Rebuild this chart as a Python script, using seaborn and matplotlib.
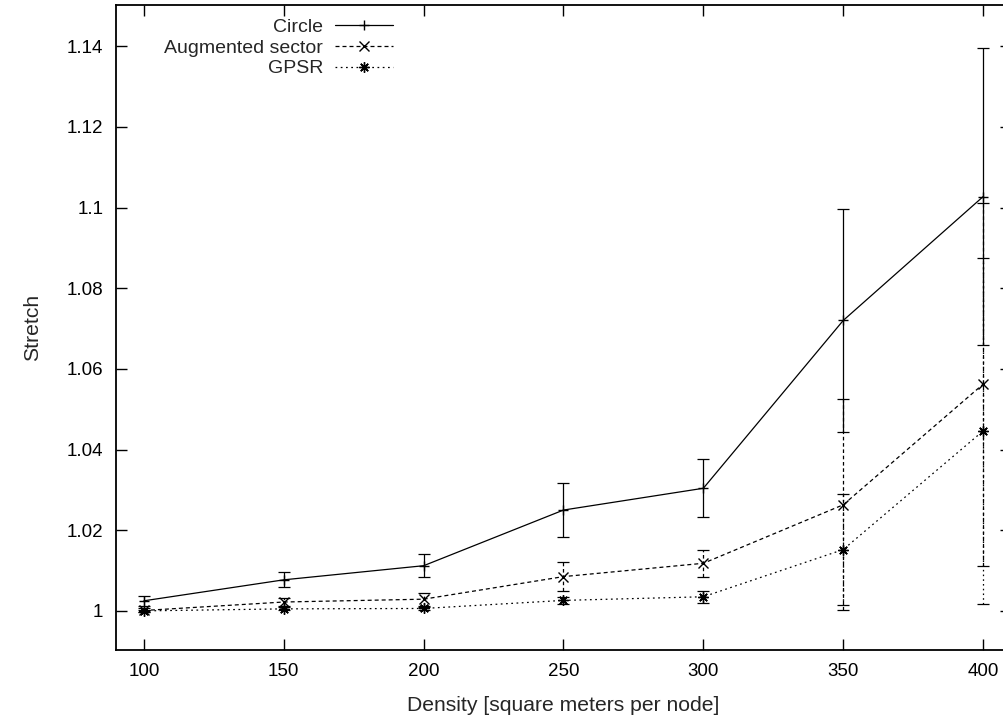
import numpy as np
import pandas as pd
import matplotlib
matplotlib.use("Agg")
import matplotlib.pyplot as plt
from matplotlib.lines import Line2D
import seaborn as sns

# Node density (square meters per node)
density = [100, 150, 200, 250, 300, 350, 400]

# Mean stretch and error half-widths per routing scheme
circle_mean = [1.0025, 1.0077, 1.0112, 1.0250, 1.0304, 1.0720, 1.1027]
circle_err = [0.0013, 0.0019, 0.0029, 0.0066, 0.0072, 0.0276, 0.0369]

sector_mean = [1.0001, 1.0022, 1.0029, 1.0085, 1.0118, 1.0263, 1.0562]
sector_err = [0.0005, 0.0010, 0.0016, 0.0035, 0.0034, 0.0262, 0.0450]

gpsr_mean = [1.0000, 1.0005, 1.0006, 1.0026, 1.0035, 1.0152, 1.0446]
gpsr_err = [0.0003, 0.0004, 0.0004, 0.0008, 0.0015, 0.0137, 0.0430]

series_names = ["Circle", "Augmented sector", "GPSR"]
xticks = [100, 150, 200, 250, 300, 350, 400]
yticks = [1.0, 1.02, 1.04, 1.06, 1.08, 1.1, 1.12, 1.14]
ytick_labels = ["1", "1.02", "1.04", "1.06", "1.08", "1.1", "1.12", "1.14"]

df = pd.DataFrame({
    "density": density * 3,
    "stretch": circle_mean + sector_mean + gpsr_mean,
    "err": circle_err + sector_err + gpsr_err,
    "series": np.repeat(series_names, len(density)),
})

sns.set_theme(style="ticks")
plt.rcParams["font.family"] = ["Liberation Sans", "DejaVu Sans"]

fig = plt.figure(figsize=(10.04, 7.15), dpi=100)
ax = fig.add_axes([0.1155, 0.0909, 0.8915, 0.902])

dash_specs = {"Circle": "", "Augmented sector": (3.2, 2.4), "GPSR": (1.4, 2.8)}
marker_specs = {"Circle": "+", "Augmented sector": "x", "GPSR": (8, 2, 0)}
lw = 0.9
msize = 7.5
mew = 1.0

sns.lineplot(
    data=df, x="density", y="stretch", hue="series", style="series",
    hue_order=series_names, style_order=series_names,
    palette=["black"] * 3,
    dashes=dash_specs, markers=marker_specs,
    markersize=msize, markeredgewidth=mew, markeredgecolor="black",
    linewidth=lw, ax=ax, legend=False, errorbar=None,
)

# Error bars, drawn in the same line style as each series
for name in series_names:
    sub = df[df["series"] == name]
    eb = ax.errorbar(
        sub["density"], sub["stretch"], yerr=sub["err"], fmt="none",
        ecolor="black", elinewidth=lw, capsize=4, capthick=lw,
    )
    if dash_specs[name] != "":
        d = tuple(v * lw for v in dash_specs[name])
        for coll in eb[2]:
            coll.set_linestyle((0, d))

# Legend entries: label first, sample line on the right
handles = []
for name in series_names:
    ls = "-" if dash_specs[name] == "" else (0, dash_specs[name])
    handles.append(Line2D([], [], color="black", lw=lw, linestyle=ls,
                          marker=marker_specs[name], markersize=msize,
                          markeredgewidth=mew, markeredgecolor="black"))
ax.legend(handles, series_names, loc="upper left",
          bbox_to_anchor=(0.039, 1.0), frameon=False,
          markerfirst=False, fontsize=14, handlelength=3.0,
          handletextpad=0.6, labelspacing=0.15, borderpad=0.2)

ax.set_xlim(90, 410)
ax.set_ylim(0.9903, 1.1502)
ax.set_xticks(xticks)
ax.set_xticklabels([str(v) for v in xticks])
ax.set_yticks(yticks)
ax.set_yticklabels(ytick_labels)
ax.tick_params(direction="in", length=8, width=1.0, top=True, right=True,
               labelsize=13.5, pad=9, colors="black")
for sp in ax.spines.values():
    sp.set_visible(True)
    sp.set_linewidth(1.3)
    sp.set_color("black")

ax.set_xlabel("Density [square meters per node]", fontsize=15.2, labelpad=12)
ax.set_ylabel("Stretch", fontsize=15.2, labelpad=18)

fig.savefig("out.png", dpi=100)
